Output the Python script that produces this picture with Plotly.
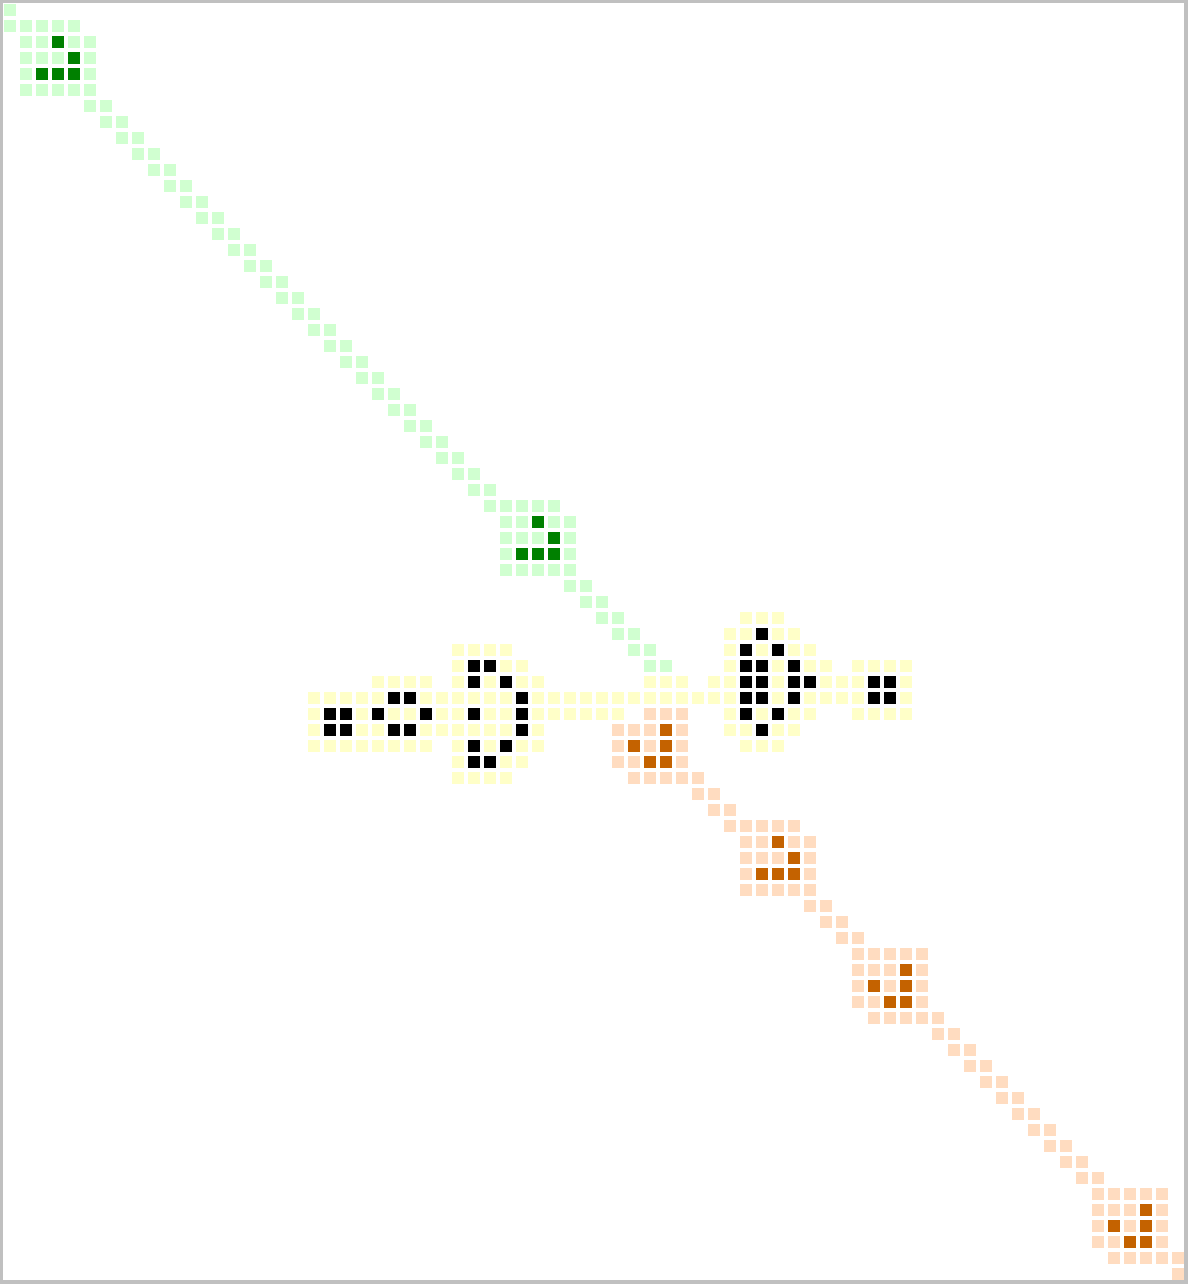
import plotly.graph_objects as go

N_COLS = 74
N_ROWS = 80

# Each entry: (row, first column, pattern) ; 'l' = light cell, 'D' = dark (live) cell, '.' = empty
GREEN_ROWS = [
    (0, 0, "l"), (1, 0, "lllll"), (2, 1, "llDll"), (3, 1, "lllDl"), (4, 1, "lDDDl"), (5, 1, "lllll"),
    (6, 5, "ll"), (7, 6, "ll"), (8, 7, "ll"), (9, 8, "ll"), (10, 9, "ll"), (11, 10, "ll"),
    (12, 11, "ll"), (13, 12, "ll"), (14, 13, "ll"), (15, 14, "ll"), (16, 15, "ll"), (17, 16, "ll"),
    (18, 17, "ll"), (19, 18, "ll"), (20, 19, "ll"), (21, 20, "ll"), (22, 21, "ll"), (23, 22, "ll"),
    (24, 23, "ll"), (25, 24, "ll"), (26, 25, "ll"), (27, 26, "ll"), (28, 27, "ll"), (29, 28, "ll"),
    (30, 29, "ll"),
    (31, 30, "lllll"), (32, 31, "llDll"), (33, 31, "lllDl"), (34, 31, "lDDDl"), (35, 31, "lllll"),
    (36, 35, "ll"), (37, 36, "ll"), (38, 37, "ll"), (39, 38, "ll"), (40, 39, "ll"), (41, 40, "ll"),
]

YELLOW_ROWS = [
    (38, 46, "lll"),
    (39, 45, "llDll"),
    (40, 28, "llll"), (40, 45, "lDlDll"),
    (41, 28, "lDDll"), (41, 45, "lDDlDll.llll"),
    (42, 23, "llll.lDlDll"), (42, 40, "lll.llDDlDDlllDDl"),
    (43, 19, "lllllDDllllllDlllllllllllllDDlDllllDDl"),
    (44, 19, "lDDlDllDllDllDllllll"), (44, 45, "lDlDll..llll"),
    (45, 19, "lDDllDDllllllDl"), (45, 45, "llDll"),
    (46, 19, "llllllll"), (46, 28, "lDlDll"), (46, 46, "lll"),
    (47, 28, "lDDll"),
    (48, 28, "llll"),
]

ORANGE_ROWS = [
    (44, 40, "lll"), (45, 38, "lllDl"), (46, 38, "lDlDl"), (47, 38, "llDDl"), (48, 39, "lllll"),
    (49, 43, "ll"), (50, 44, "ll"),
    (51, 45, "lllll"), (52, 46, "llDll"), (53, 46, "lllDl"), (54, 46, "lDDDl"), (55, 46, "lllll"),
    (56, 50, "ll"), (57, 51, "ll"), (58, 52, "ll"),
    (59, 53, "lllll"), (60, 53, "lllDl"), (61, 53, "lDlDl"), (62, 53, "llDDl"), (63, 54, "lllll"),
    (64, 58, "ll"), (65, 59, "ll"), (66, 60, "ll"), (67, 61, "ll"), (68, 62, "ll"),
    (69, 63, "ll"), (70, 64, "ll"), (71, 65, "ll"), (72, 66, "ll"), (73, 67, "ll"),
    (74, 68, "lllll"), (75, 68, "lllDl"), (76, 68, "lDlDl"), (77, 68, "llDDl"), (78, 69, "lllll"),
    (79, 73, "l"),
]

GROUPS = [
    (GREEN_ROWS, 1, 2),
    (YELLOW_ROWS, 3, 4),
    (ORANGE_ROWS, 5, 6),
]

COLORS = ["#d0ffd0", "#008000", "#ffffc8", "#000000", "#ffdcc0", "#c46200"]

z = [[None] * N_COLS for _ in range(N_ROWS)]
for rows, light_code, dark_code in GROUPS:
    for r, c0, pat in rows:
        for k, ch in enumerate(pat):
            if ch == "l":
                z[r][c0 + k] = light_code
            elif ch == "D":
                z[r][c0 + k] = dark_code

n = len(COLORS)
colorscale = []
for i, col in enumerate(COLORS):
    colorscale.append([i / n, col])
    colorscale.append([(i + 1) / n, col])

fig = go.Figure(go.Heatmap(
    z=z,
    x=list(range(N_COLS)),
    y=list(range(N_ROWS)),
    zmin=0.5, zmax=n + 0.5,
    colorscale=colorscale,
    showscale=False,
    xgap=4, ygap=4,
    hoverinfo="skip",
))

W, H = 1188, 1284
ML, MT, MR, MB = 3, 3, 4, 4
PITCH = 16
x0 = (ML - 10) / PITCH
x1 = x0 + (W - ML - MR) / PITCH
y0 = (MT - 10) / PITCH
y1 = y0 + (H - MT - MB) / PITCH

fig.update_layout(
    width=W, height=H,
    margin=dict(l=ML, r=MR, t=MT, b=MB, pad=0),
    paper_bgcolor="#c0c0c0",
    plot_bgcolor="#ffffff",
    showlegend=False,
)
fig.update_xaxes(range=[x0, x1], showgrid=False, zeroline=False, showticklabels=False,
                 ticks="", showline=False, fixedrange=True)
fig.update_yaxes(range=[y1, y0], showgrid=False, zeroline=False, showticklabels=False,
                 ticks="", showline=False, fixedrange=True)

fig.write_html("out.html", config={"displayModeBar": False})
